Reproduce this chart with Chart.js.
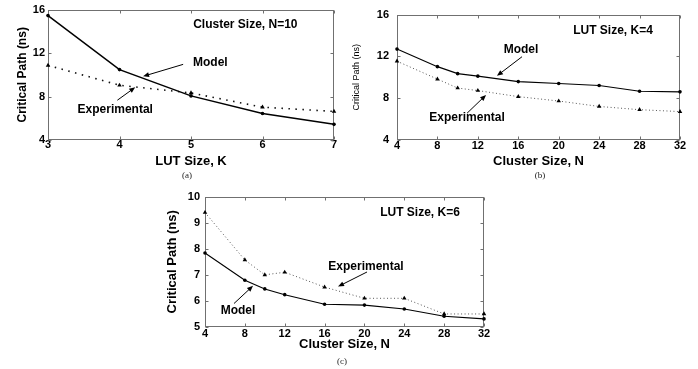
<!DOCTYPE html>
<html>
<head>
<meta charset="utf-8">
<script src="https://cdn.jsdelivr.net/npm/chart.js@4.4.0/dist/chart.umd.min.js"></script>
<style>
  body { margin: 0; background: #fff; width: 698px; height: 369px; position: relative; overflow: hidden; }
  .box { position: absolute; }
  .cap { position: absolute; font: 9px "Liberation Serif", "Times New Roman", serif; color: #222; transform: translate(-50%, -50%); }
</style>
</head>
<body>
<div class="box" style="left:0;top:0"><canvas id="chartA" width="345" height="185"></canvas></div>
<div class="box" style="left:350px;top:0"><canvas id="chartB" width="348" height="185"></canvas></div>
<div class="box" style="left:150px;top:185px"><canvas id="chartC" width="350" height="184"></canvas></div>
<div class="cap" style="left:187px;top:175px">(a)</div>
<div class="cap" style="left:540px;top:175px">(b)</div>
<div class="cap" style="left:342px;top:361px">(c)</div>
<script>
// values
const lutSizes = [3, 4, 5, 6, 7];
const modelA = [15.45, 10.48, 8.06, 6.44, 5.44];
const expA = [10.87, 9.04, 8.33, 7.02, 6.63];

const clusterSizes = [4, 8, 10, 12, 16, 20, 24, 28, 32];
const modelB = [12.7, 11.02, 10.35, 10.11, 9.59, 9.40, 9.22, 8.67, 8.61];
const expB = [11.54, 9.83, 8.97, 8.73, 8.15, 7.73, 7.21, 6.90, 6.72];
const modelC = [7.84, 6.79, 6.46, 6.24, 5.87, 5.84, 5.69, 5.41, 5.31];
const expC = [9.39, 7.57, 7.0, 7.1, 6.53, 6.1, 6.1, 5.5, 5.5];

const xTicksK = [3, 4, 5, 6, 7];
const xTicksN = [4, 8, 12, 16, 20, 24, 28, 32];
const yTicksAB = [4, 8, 12, 16];
const yTicksC = [5, 6, 7, 8, 9, 10];

Chart.defaults.font.family = "'Liberation Sans', Arial, sans-serif";
Chart.defaults.color = '#000';

// box round the plot with inward tick marks on all four sides
const framePlugin = {
  id: 'frame',
  beforeDatasetsDraw(chart) {
    const { ctx, chartArea: a, scales: { x, y } } = chart;
    const l = Math.round(a.left) + 0.5, r = Math.round(a.right) - 0.5;
    const t = Math.round(a.top) + 0.5, b = Math.round(a.bottom) - 0.5;
    ctx.save();
    ctx.strokeStyle = '#707070';
    ctx.lineWidth = 1;
    ctx.strokeRect(l, t, r - l, b - t);
    ctx.beginPath();
    x.ticks.forEach(tk => {
      const px = Math.round(x.getPixelForValue(tk.value)) + 0.5;
      ctx.moveTo(px, b); ctx.lineTo(px, b - 3);
      ctx.moveTo(px, t); ctx.lineTo(px, t + 3);
    });
    y.ticks.forEach(tk => {
      const py = Math.round(y.getPixelForValue(tk.value)) + 0.5;
      ctx.moveTo(l, py); ctx.lineTo(l + 3, py);
      ctx.moveTo(r, py); ctx.lineTo(r - 3, py);
    });
    ctx.stroke();
    ctx.restore();
  }
};

// text labels and arrows, placed in data units
const notesPlugin = {
  id: 'notes',
  afterDatasetsDraw(chart, args, opts) {
    const { ctx, scales: { x, y } } = chart;
    ctx.save();
    ctx.fillStyle = '#000';
    ctx.strokeStyle = '#000';
    ctx.font = "bold 12px 'Liberation Sans', Arial, sans-serif";
    ctx.textAlign = 'center';
    ctx.textBaseline = 'middle';
    (opts.texts || []).forEach(n => {
      ctx.fillText(n.text, x.getPixelForValue(n.x), y.getPixelForValue(n.y));
    });
    ctx.lineWidth = 1;
    (opts.arrows || []).forEach(ar => {
      const x0 = x.getPixelForValue(ar.from[0]), y0 = y.getPixelForValue(ar.from[1]);
      const x1 = x.getPixelForValue(ar.to[0]), y1 = y.getPixelForValue(ar.to[1]);
      const ang = Math.atan2(y1 - y0, x1 - x0);
      ctx.beginPath();
      ctx.moveTo(x0, y0);
      ctx.lineTo(x1 - 4 * Math.cos(ang), y1 - 4 * Math.sin(ang));
      ctx.stroke();
      ctx.beginPath();
      ctx.moveTo(x1, y1);
      ctx.lineTo(x1 - 6 * Math.cos(ang) + 2.5 * Math.sin(ang), y1 - 6 * Math.sin(ang) - 2.5 * Math.cos(ang));
      ctx.lineTo(x1 - 6 * Math.cos(ang) - 2.5 * Math.sin(ang), y1 - 6 * Math.sin(ang) + 2.5 * Math.cos(ang));
      ctx.closePath();
      ctx.fill();
    });
    ctx.restore();
  }
};

function makeChart(id, cfg) {
  const modelSet = {
    label: 'Model',
    data: cfg.xs.map((v, i) => ({ x: v, y: cfg.model[i] })),
    borderColor: '#000',
    backgroundColor: '#000',
    borderWidth: cfg.modelWidth,
    pointStyle: 'circle',
    pointRadius: 1.8,
    pointBorderWidth: 0,
    tension: 0,
    clip: false
  };
  const expSet = {
    label: 'Experimental',
    data: cfg.xs.map((v, i) => ({ x: v, y: cfg.exp[i] })),
    borderColor: cfg.expColor,
    backgroundColor: '#000',
    borderWidth: cfg.expWidth,
    borderDash: cfg.expDash,
    pointStyle: 'triangle',
    pointRadius: 2.6,
    pointBorderWidth: 0,
    tension: 0,
    clip: false
  };
  return new Chart(document.getElementById(id), {
    type: 'line',
    data: { datasets: [modelSet, expSet] },
    plugins: [framePlugin, notesPlugin],
    options: {
      responsive: false,
      animation: false,
      devicePixelRatio: 1,
      layout: { padding: cfg.pad },
      plugins: {
        legend: { display: false },
        tooltip: { enabled: false },
        notes: { texts: cfg.texts, arrows: cfg.arrows }
      },
      scales: {
        x: {
          type: 'linear',
          min: cfg.xTicks[0],
          max: cfg.xTicks[cfg.xTicks.length - 1],
          grid: { display: false, drawTicks: false },
          border: { display: false },
          afterBuildTicks: s => { s.ticks = cfg.xTicks.map(v => ({ value: v })); },
          afterFit: s => { s.height = cfg.xH; },
          ticks: { font: { size: 11, weight: 'bold' }, padding: cfg.xTickPad, maxRotation: 0, autoSkip: false },
          title: {
            display: true, text: cfg.xTitle,
            font: { size: 13, weight: 'bold' },
            padding: { top: 0, bottom: cfg.xTitlePad }
          }
        },
        y: {
          type: 'linear',
          min: cfg.yTicks[0],
          max: cfg.yTicks[cfg.yTicks.length - 1],
          grid: { display: false, drawTicks: false },
          border: { display: false },
          afterBuildTicks: s => { s.ticks = cfg.yTicks.map(v => ({ value: v })); },
          afterFit: s => { s.width = cfg.yW; },
          ticks: { font: { size: 11, weight: 'bold' }, padding: cfg.yTickPad },
          title: {
            display: true, text: 'Critical Path (ns)',
            font: cfg.yTitleFont,
            padding: { top: cfg.yTitlePad, bottom: 0 }
          }
        }
      }
    }
  });
}

makeChart('chartA', {
  xs: lutSizes, model: modelA, exp: expA,
  xTicks: xTicksK, yTicks: yTicksAB,
  modelWidth: 1.5, expColor: '#111', expWidth: 1.6, expDash: [1.5, 5.5],
  pad: { top: 9, right: 11, left: 0, bottom: 0 },
  xH: 45, yW: 48, yTickPad: 3, xTickPad: -2, xTitlePad: 16,
  xTitle: 'LUT Size, K',
  yTitleFont: { size: 12, weight: 'bold' }, yTitlePad: 15,
  texts: [
    { text: 'Cluster Size, N=10', x: 5.76, y: 14.63 },
    { text: 'Model', x: 5.27, y: 11.14 },
    { text: 'Experimental', x: 3.94, y: 6.75 }
  ],
  arrows: [
    { from: [4.89, 10.96], to: [4.33, 9.86] },
    { from: [3.97, 7.66], to: [4.22, 8.85] }
  ]
});

makeChart('chartB', {
  xs: clusterSizes, model: modelB, exp: expB,
  xTicks: xTicksN, yTicks: yTicksAB,
  modelWidth: 1.1, expColor: '#555', expWidth: 1, expDash: [1, 2.5],
  pad: { top: 9, right: 18, left: 0, bottom: 0 },
  xH: 45, yW: 47, yTickPad: 8, xTickPad: -1, xTitlePad: 16,
  xTitle: 'Cluster Size, N',
  yTitleFont: { size: 9, weight: 'normal' }, yTitlePad: 1,
  texts: [
    { text: 'LUT Size, K=4', x: 25.37, y: 14.44 },
    { text: 'Model', x: 16.27, y: 12.61 },
    { text: 'Experimental', x: 10.93, y: 6.11 }
  ],
  arrows: [
    { from: [16.37, 11.97], to: [13.89, 10.14] },
    { from: [10.93, 6.56], to: [12.81, 8.31] }
  ]
});

makeChart('chartC', {
  xs: clusterSizes, model: modelC, exp: expC,
  xTicks: xTicksN, yTicks: yTicksC,
  modelWidth: 1.1, expColor: '#555', expWidth: 1, expDash: [1, 2.5],
  pad: { top: 10, right: 16, left: 0, bottom: 0 },
  xH: 42, yW: 55, yTickPad: 5, xTickPad: 0, xTitlePad: 17,
  xTitle: 'Cluster Size, N',
  yTitleFont: { size: 13, weight: 'bold' }, yTitlePad: 15,
  texts: [
    { text: 'LUT Size, K=6', x: 25.58, y: 9.39 },
    { text: 'Experimental', x: 20.16, y: 7.30 },
    { text: 'Model', x: 7.31, y: 5.63 }
  ],
  arrows: [
    { from: [20.26, 7.11], to: [17.35, 6.55] },
    { from: [6.91, 5.90], to: [8.82, 6.58] }
  ]
});
</script>
</body>
</html>
